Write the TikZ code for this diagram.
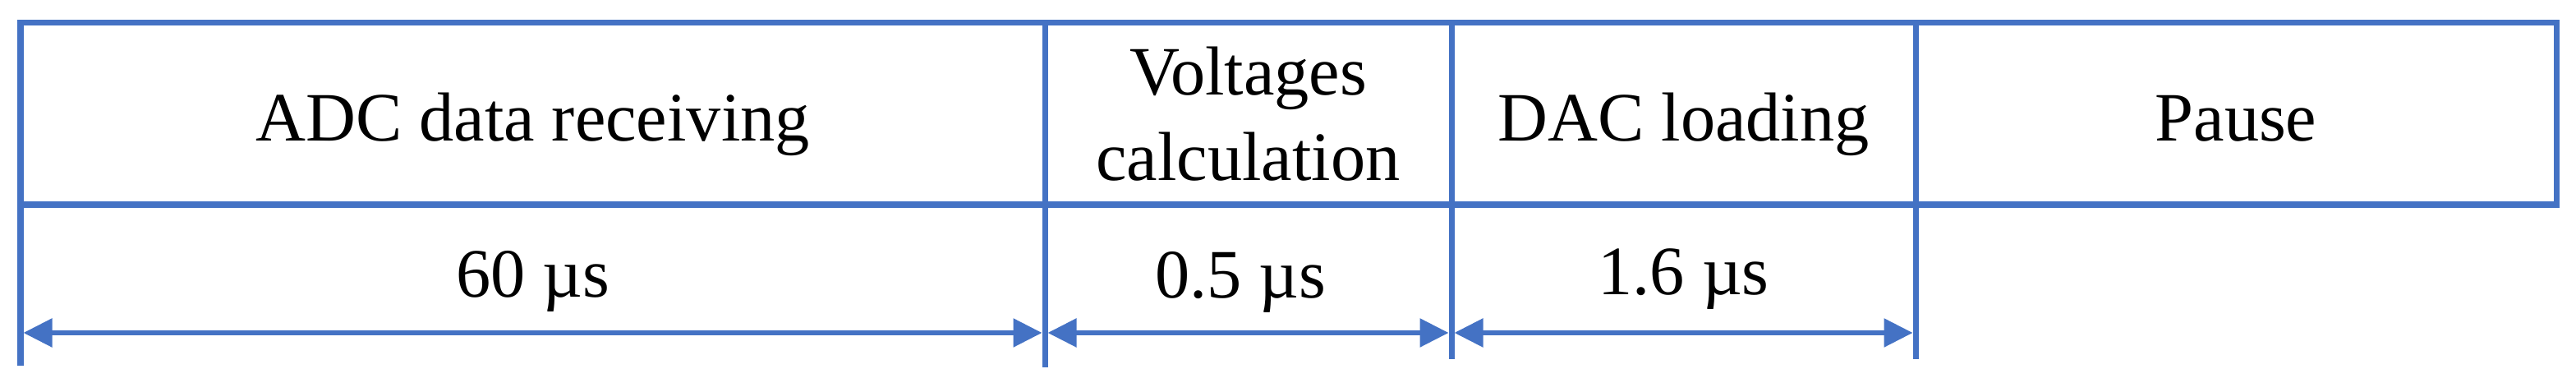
\documentclass[tikz,border=0pt]{standalone}
\usepackage{fontspec}
\setmainfont{Liberation Serif}
\usetikzlibrary{arrows.meta}
\definecolor{tblblue}{RGB}{68,114,196}

\begin{document}
\begin{tikzpicture}[
  rule/.style={draw=tblblue, line width=2pt},
  span/.style={draw=tblblue, line width=1.6pt,
    {Triangle[length=3.5mm,width=3.4mm]}-{Triangle[length=3.5mm,width=3.4mm]},
    shorten <=1pt, shorten >=1pt},
  lbl/.style={inner sep=0pt, anchor=base, align=center,
    font=\fontsize{24}{29.85}\selectfont}]
\useasboundingbox (0,0) rectangle (31.36,4.77);
% frame of the table
\draw [rule] (0.25,4.49) rectangle (31.12,2.28);
\draw [rule] (0.25,2.28) -- (0.25,0.32);
\draw [rule] (12.72,4.49) -- (12.72,0.30);
\draw [rule] (17.67,4.49) -- (17.67,0.40);
\draw [rule] (23.32,4.49) -- (23.32,0.40);
% stage names
\node [lbl] (adc) at (6.485,3.05) {ADC data receiving};
\node [lbl] (calc) at (15.195,2.57) {Voltages\\calculation};
\node [lbl] (dac) at (20.495,3.05) {DAC loading};
\node [lbl] (pause) at (27.22,3.05) {Pause};
% durations
\node [lbl] (tadc) at (6.485,1.15) {60 µs};
\node [lbl] (tcalc) at (15.1,1.14) {0.5 µs};
\node [lbl] (tdac) at (20.495,1.18) {1.6 µs};
\coordinate (m0) at (0.25,0.72);
\coordinate (m1) at (12.72,0.72);
\coordinate (m2) at (17.67,0.72);
\coordinate (m3) at (23.32,0.72);
\draw [span] (m0) -- (m1);
\draw [span] (m1) -- (m2);
\draw [span] (m2) -- (m3);
\end{tikzpicture}
\end{document}
